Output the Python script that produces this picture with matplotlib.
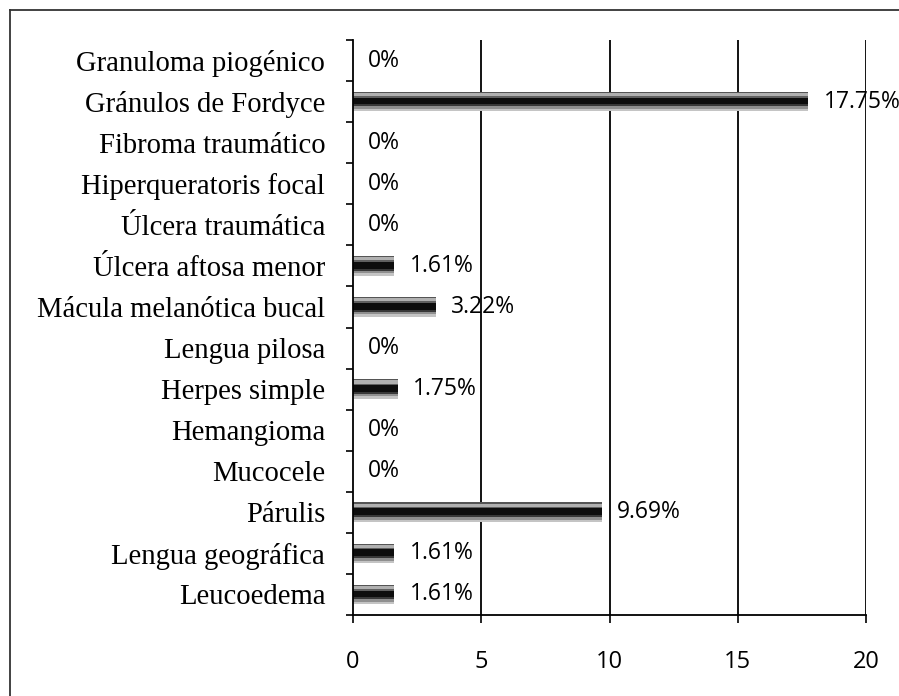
import matplotlib
matplotlib.use("Agg")
import matplotlib.pyplot as plt
from matplotlib.lines import Line2D
import numpy as np

categories = ["Granuloma piogénico", "Gránulos de Fordyce", "Fibroma traumático",
              "Hiperqueratoris focal", "Úlcera traumática", "Úlcera aftosa menor",
              "Mácula melanótica bucal", "Lengua pilosa", "Herpes simple",
              "Hemangioma", "Mucocele", "Párulis", "Lengua geográfica", "Leucoedema"]
values = [0, 17.75, 0, 0, 0, 1.61, 3.22, 0, 1.75, 0, 0, 9.69, 1.61, 1.61]
labels = ["0%", "17.75%", "0%", "0%", "0%", "1.61%", "3.22%", "0%", "1.75%",
          "0%", "0%", "9.69%", "1.61%", "1.61%"]
xticks = [0, 5, 10, 15, 20]

W, H = 899, 696
fig = plt.figure(figsize=(W / 100, H / 100), dpi=100)
fig.patch.set_facecolor("white")

# outer frame (left and top lines)
fig.add_artist(Line2D([10 / W, 10 / W], [0, 1 - 10 / H], color="#333333", lw=1.3))
fig.add_artist(Line2D([10 / W, 1], [1 - 10 / H, 1 - 10 / H], color="#333333", lw=1.3))

ax = fig.add_axes([353 / W, 81 / H, (866 - 353) / W, (615 - 40) / H])

n = len(categories)
y = np.arange(n)

# 3D-like bar shading: strips from top to bottom
bar_h = 0.48
profile = [
    (0.00, 0.06, "#555555"),
    (0.06, 0.22, "#b0b0b0"),
    (0.22, 0.30, "#606060"),
    (0.30, 0.64, "#0d0d0d"),
    (0.64, 0.74, "#383838"),
    (0.74, 0.87, "#8f8f8f"),
    (0.87, 1.00, "#c4c4c4"),
]
for (a, b, c) in profile:
    centers = y - bar_h / 2 + (a + b) / 2 * bar_h
    ax.barh(centers, values, height=(b - a) * bar_h, color=c, edgecolor="none", zorder=3)

for yi, v, lab in zip(y, values, labels):
    ax.annotate(lab, xy=(v, yi), xytext=(11, 0), textcoords="offset points",
                va="center", ha="left", fontsize=16.5, family="Open Sans", zorder=5)

ax.set_xlim(0, 20)
ax.set_ylim(n - 0.5, -0.5)

ax.set_yticks(y)
ax.set_yticklabels(categories, family="Liberation Serif", fontsize=20.6)
ax.set_yticks(np.arange(n + 1) - 0.5, minor=True)
ax.tick_params(axis="y", which="major", length=0, pad=20)
ax.tick_params(axis="y", which="minor", length=5, width=1.2, direction="out", color="black")

ax.set_xticks(xticks)
ax.set_xticklabels([str(t) for t in xticks], family="Open Sans", fontsize=17)
ax.tick_params(axis="x", which="major", length=6, width=1.2, direction="out", pad=19)

for t in xticks[1:]:
    ax.axvline(t, color="black", lw=1.3, zorder=2)

for s in ["top", "right"]:
    ax.spines[s].set_visible(False)
ax.spines["left"].set_linewidth(1.3)
ax.spines["bottom"].set_linewidth(1.3)
ax.spines["left"].set_zorder(4)

fig.savefig("out.png", dpi=100, facecolor="white")
